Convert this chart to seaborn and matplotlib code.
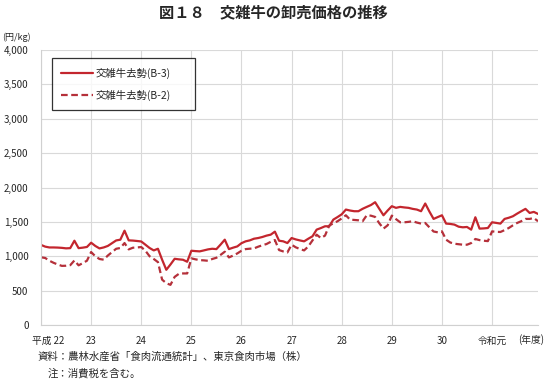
import matplotlib
matplotlib.use("Agg")
import matplotlib.pyplot as plt
import matplotlib.transforms as mtransforms
import pandas as pd
import seaborn as sns

# monthly wholesale prices (yen/kg), FY H22 (Apr 2010) .. R1 (Mar 2020)
b3 = [1165, 1140, 1128, 1128, 1126, 1122, 1115, 1118, 1226, 1118, 1125, 1135,
      1197, 1150, 1114, 1128, 1150, 1190, 1230, 1241, 1372, 1231, 1228, 1222,
      1215, 1168, 1120, 1085, 1109, 950, 803, 880, 963, 955, 949, 920,
      1080, 1075, 1071, 1085, 1100, 1109, 1104, 1170, 1241, 1104, 1125, 1143,
      1190, 1217, 1231, 1255, 1265, 1280, 1300, 1314, 1358, 1226, 1217, 1192,
      1265, 1245, 1230, 1217, 1255, 1290, 1387, 1410, 1436, 1436, 1533, 1570,
      1610, 1679, 1665, 1655, 1655, 1690, 1718, 1745, 1786, 1690, 1596, 1665,
      1728, 1704, 1718, 1710, 1704, 1689, 1679, 1655, 1767, 1650, 1543, 1570,
      1596, 1475, 1470, 1460, 1430, 1421, 1426, 1387, 1567, 1402, 1405, 1411,
      1494, 1485, 1475, 1543, 1560, 1582, 1620, 1655, 1689, 1630, 1645, 1616]
b2 = [985, 975, 935, 905, 880, 860, 862, 870, 939, 868, 900, 935,
      1061, 1000, 960, 950, 1010, 1060, 1109, 1120, 1192, 1100, 1124, 1128,
      1134, 1080, 1000, 960, 915, 660, 608, 584, 700, 744, 750, 750,
      969, 955, 944, 940, 934, 960, 978, 1020, 1066, 983, 1010, 1041,
      1080, 1104, 1110, 1114, 1139, 1160, 1178, 1210, 1236, 1090, 1070, 1056,
      1168, 1130, 1105, 1085, 1143, 1230, 1314, 1265, 1300, 1445, 1480, 1509,
      1550, 1596, 1533, 1528, 1523, 1509, 1596, 1590, 1572, 1480, 1402, 1450,
      1591, 1540, 1494, 1494, 1500, 1509, 1490, 1475, 1484, 1420, 1360, 1348,
      1362, 1241, 1200, 1182, 1175, 1168, 1168, 1192, 1251, 1235, 1226, 1220,
      1362, 1355, 1353, 1380, 1411, 1450, 1484, 1510, 1543, 1543, 1557, 1509]
months = list(range(len(b3)))
year_labels = ["平成 22", "23", "24", "25", "26", "27", "28", "29", "30", "令和元"]
series_names = ["交雑牛去勢(B-3)", "交雑牛去勢(B-2)"]

df = pd.DataFrame({
    "month": months * 2,
    "price": b3 + b2,
    "grade": [series_names[0]] * len(b3) + [series_names[1]] * len(b2),
})

sns.set_style("white")
plt.rcParams["font.family"] = ["Noto Sans CJK JP", "DejaVu Sans"]

fig = plt.figure(figsize=(5.46, 3.85), dpi=100)
ax = fig.add_axes([41 / 546, 60 / 385, 497 / 546, 275 / 385])

sns.lineplot(data=df, x="month", y="price", hue="grade", style="grade",
             palette=["#c3262e", "#b5303a"],
             dashes={series_names[0]: "", series_names[1]: (3, 1.6)},
             linewidth=1.6, ax=ax)

ax.set_xlim(0, len(b3) - 1)
ax.set_ylim(0, 4000)
ax.set_yticks(range(0, 4001, 500))
ax.set_yticklabels([f"{v:,}" for v in range(0, 4001, 500)], fontsize=7)
ax.set_xticks(range(0, 120, 12))
ax.set_xticklabels(year_labels, fontsize=7)
ax.tick_params(axis="y", length=0, pad=9)
ax.tick_params(axis="x", length=3, color="#d0d0d0", pad=5)
# first label sits a bit right of the axis
lab0 = ax.get_xticklabels()[0]
lab0.set_transform(lab0.get_transform() + mtransforms.ScaledTranslation(7 / 100, 0, fig.dpi_scale_trans))
ax.set_xlabel("")
ax.set_ylabel("")
ax.grid(True, color="#d9d9d9", linewidth=0.8)
for s in ["top", "right"]:
    ax.spines[s].set_visible(False)
for s in ["left", "bottom"]:
    ax.spines[s].set_color("#d0d0d0")
    ax.spines[s].set_linewidth(0.8)

# legend box stretched to the width seen in the original
leg = ax.legend(loc="upper left", bbox_to_anchor=(0.022, 0.60, 0.288, 0.37),
                mode="expand", fontsize=7.5,
                frameon=True, fancybox=False, edgecolor="black",
                handlelength=3.0, labelspacing=1.05, borderpad=0.9,
                handletextpad=0.3, borderaxespad=0)
leg.get_frame().set_linewidth(0.9)

fig.text(0.5, 1 - 12 / 385, "図１８　交雑牛の卸売価格の推移", ha="center", va="center",
         fontsize=11, fontweight="bold")
fig.text(2 / 546, 1 - 37 / 385, "(円/kg)", ha="left", va="center", fontsize=6.5)
fig.text(531 / 546, 1 - 340 / 385, "(年度)", ha="center", va="center", fontsize=7)
fig.text(38 / 546, 1 - 357 / 385, "資料：農林水産省「食肉流通統計」、東京食肉市場（株）",
         ha="left", va="center", fontsize=7.5)
fig.text(48 / 546, 1 - 373 / 385, "注：消費税を含む。", ha="left", va="center", fontsize=7.5)

fig.savefig("out.png", dpi=100)
